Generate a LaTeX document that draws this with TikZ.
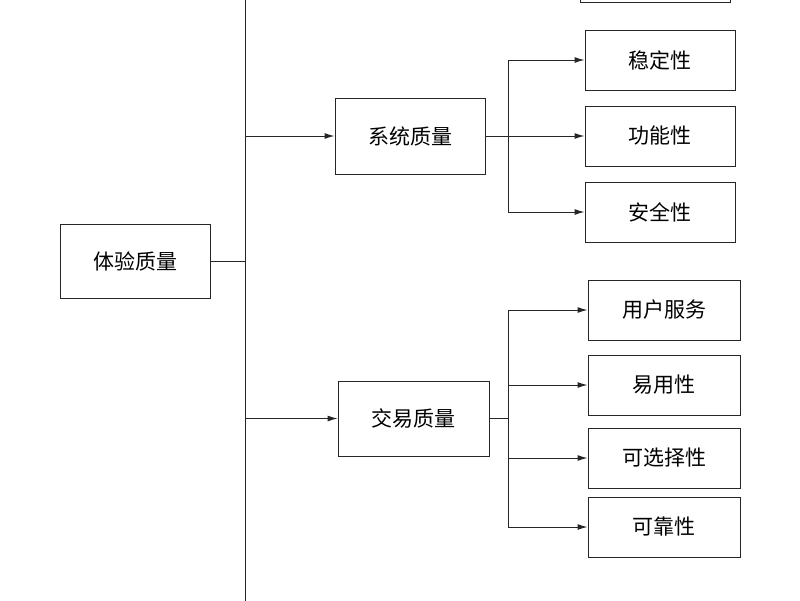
\documentclass[tikz,border=0pt]{standalone}
\usepackage{fontspec}
\newfontfamily\cjk{Noto Sans CJK SC}
\usetikzlibrary{arrows.meta}
\begin{document}
\begin{tikzpicture}[x=1pt,y=-1pt,
  box/.style={draw=black!85,line width=1pt,minimum width=150pt,minimum height=60pt,inner sep=0pt,font=\cjk\fontsize{21}{21}\selectfont},
  ln/.style={draw=black!85,line width=1pt},
  arr/.style={ln,-{Latex[length=10pt,width=6pt]}}]
\useasboundingbox (0,0) rectangle (800,600);
\clip (0,0) rectangle (800,600);
\fill[white] (0,0) rectangle (800,600);
\node[box,minimum height=74pt] (root) at (135,261) {体验质量};
\node[box,minimum height=76pt] (sys) at (410,136) {系统质量};
\node[box,minimum width=151pt,minimum height=75pt] (trd) at (413.5,418.5) {交易质量};
\node[box] (top) at (655,-28) {};
\node[box] (s1) at (660,60) {稳定性};
\node[box] (s2) at (660,136) {功能性};
\node[box] (s3) at (660,212) {安全性};
\node[box,minimum width=152pt] (t1) at (664,310) {用户服务};
\node[box,minimum width=152pt] (t2) at (664,385) {易用性};
\node[box,minimum width=152pt] (t3) at (664,458) {可选择性};
\node[box,minimum width=152pt] (t4) at (664,527) {可靠性};
\coordinate (vt) at (245,-5);
\coordinate (vb) at (245,605);
\draw[ln] (vt) -- (vb);
\coordinate (rj) at (245,261);
\draw[ln] (root.east) -- (rj);
\coordinate (sj) at (245,136);
\coordinate (tj) at (245,418.5);
\draw[arr] (sj) -- (sys.west);
\draw[arr] (tj) -- (trd.west);
\coordinate (sb) at (508,136);
\coordinate (tb) at (508,418.5);
\draw[ln] (sys.east) -- (sb);
\draw[ln] (trd.east) -- (tb);
\foreach \n in {s1,s2,s3} \draw[arr] (sb) |- (\n.west);
\foreach \n in {t1,t2,t3,t4} \draw[arr] (tb) |- (\n.west);
\end{tikzpicture}
\end{document}
